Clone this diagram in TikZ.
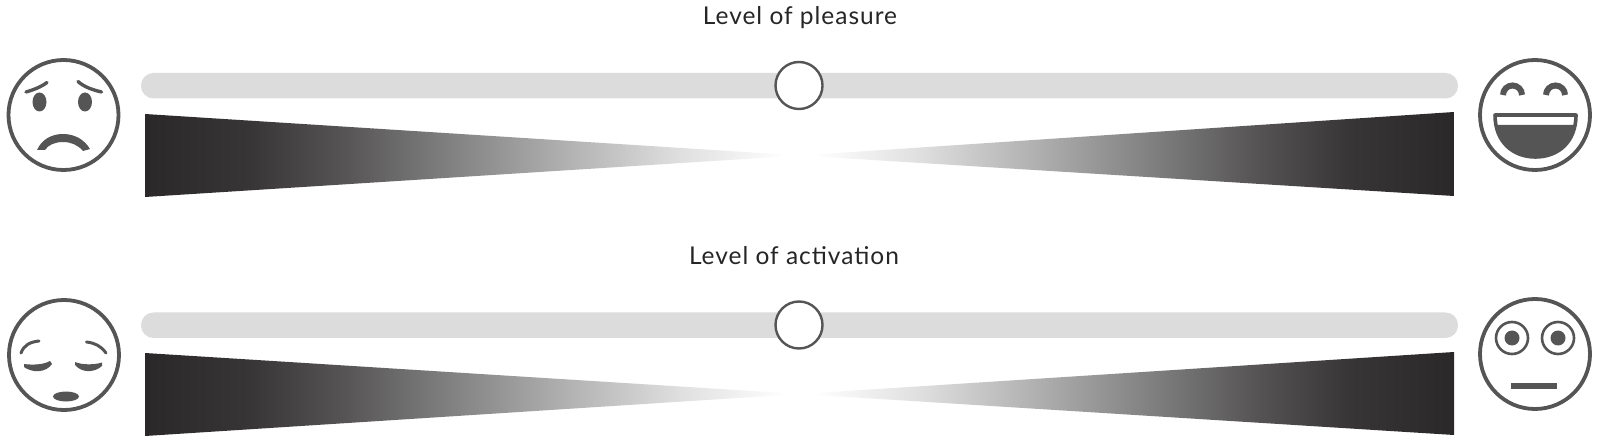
\documentclass[tikz,border=0pt]{standalone}
\usepackage{fontspec}
\setmainfont[LetterSpace=4.0]{Lato}
\definecolor{wL0}{HTML}{2B2829}
\definecolor{wL1}{HTML}{383536}
\definecolor{wL2}{HTML}{555354}
\definecolor{wL3}{HTML}{8A8A8A}
\definecolor{wL4}{HTML}{B0B0B0}
\definecolor{wL5}{HTML}{E0E0E0}
\definecolor{facegray}{HTML}{555555}
\definecolor{bargray}{HTML}{DCDCDC}
\pgfdeclarehorizontalshading{wedgeL}{100bp}{color(0bp)=(wL0);color(25bp)=(wL0);color(33bp)=(wL1);color(40bp)=(wL2);color(50bp)=(wL3);color(57bp)=(wL4);color(66bp)=(wL5);color(74bp)=(white);color(100bp)=(white)}
\tikzset{
  x=1pt,y=-1pt,
  face/.style={draw=facegray,line width=3.8pt,fill=white},
  feat/.style={draw=facegray,line width=3.4pt,line cap=round},
  solid feat/.style={fill=facegray,draw=none},
  track/.style={fill=bargray,rounded corners=12.5pt},
  knob/.style={circle,draw=facegray,line width=2.4pt,fill=white,minimum size=47pt,inner sep=0pt},
  levellabel/.style={font=\fontsize{24.5}{28}\selectfont,text=black!85,inner sep=0pt,anchor=base}
}
\begin{document}
\begin{tikzpicture}
\useasboundingbox (0,0) rectangle (1600,443);
\fill[white] (0,0) rectangle (1600,443);
% labels
\node[levellabel] (lp) at (800,25) {Level of pleasure};
\node[levellabel] (la) at (794,265) {Level of activation};
% tracks
\fill[track] (141,73) rectangle (1458,98.5);
\fill[track] (141,312.5) rectangle (1458,338);
\node[knob] (k1) at (799,85.5) {};
\node[knob] (k2) at (799,325) {};
% wedges
\shade[shading=wedgeL] (145,114) -- (800,155.5) -- (145,197) -- cycle;
\shade[shading=wedgeL,shading angle=180] (1454,112) -- (800,155.5) -- (1454,196) -- cycle;
\shade[shading=wedgeL] (145,353) -- (800,394) -- (145,436) -- cycle;
\shade[shading=wedgeL,shading angle=180] (1454,352) -- (800,394) -- (1454,435) -- cycle;
% sad face
\node[face,circle,minimum size=110pt,inner sep=0pt] (f1) at (63.5,115) {};
\fill[solid feat] (39.5,102) ellipse (7 and 9.5);
\fill[solid feat] (85,102) ellipse (7 and 9.5);
\draw[feat] (26,92) .. controls (33,90) and (41,87) .. (47,82.5);
\draw[feat] (101.5,92) .. controls (93,90) and (84,87) .. (78,81.5);
\fill[solid feat] (37,150) .. controls (42,139) and (52,134) .. (63,134) .. controls (74,134) and (84,139) .. (90,149) -- (83,151) .. controls (78,145) and (71,142) .. (63,142) .. controls (55,142) and (48,145) .. (45,150) -- cycle;
% laughing face
\node[face,circle,minimum size=110pt,inner sep=0pt] (f2) at (1535,115) {};
\draw[feat,line width=6pt,line cap=butt] (1503,95) arc[start angle=180,end angle=360,radius=9.5];
\draw[feat,line width=6pt,line cap=butt] (1546,95) arc[start angle=180,end angle=360,radius=9.5];
\draw[draw=facegray,line width=3.6pt,fill=white,line join=round] (1495,115) -- (1576,115) .. controls (1576,142) and (1558,157) .. (1535.5,157) .. controls (1513,157) and (1495,142) .. (1495,115) -- cycle;
\fill[solid feat] (1497,125) -- (1574,125) .. controls (1571,144) and (1555,157) .. (1535.5,157) .. controls (1516,157) and (1500,144) .. (1497,125) -- cycle;
% sleepy face
\node[face,circle,minimum size=110pt,inner sep=0pt] (f3) at (64,355) {};
\draw[feat,line width=3pt] (21,353) .. controls (24,345) and (30,342) .. (39,341);
\draw[feat,line width=3pt] (106,353) .. controls (101,346) and (95,343) .. (86.5,342);
\fill[solid feat] (24,364) .. controls (32,365) and (43,365) .. (50,361) -- (52,364) .. controls (46,373) and (32,373) .. (24,367) -- cycle;
\fill[solid feat] (75,362) .. controls (82,365) and (94,365) .. (102,362.5) -- (102,366) .. controls (94,373) and (82,373) .. (75,365) -- cycle;
\fill[solid feat] (66,396.5) ellipse (13 and 5);
% staring face
\node[face,circle,minimum size=110pt,inner sep=0pt] (f4) at (1535,354) {};
\node[circle,draw=facegray,line width=2.6pt,minimum size=32pt,inner sep=0pt] (e1) at (1512,338) {};
\node[circle,draw=facegray,line width=2.6pt,minimum size=32pt,inner sep=0pt] (e2) at (1558,338) {};
\fill[solid feat] (e1.center) circle (7.5);
\fill[solid feat] (e2.center) circle (7.5);
\fill[solid feat] (1510.5,383) rectangle (1556.5,388.5);
\end{tikzpicture}
\end{document}
